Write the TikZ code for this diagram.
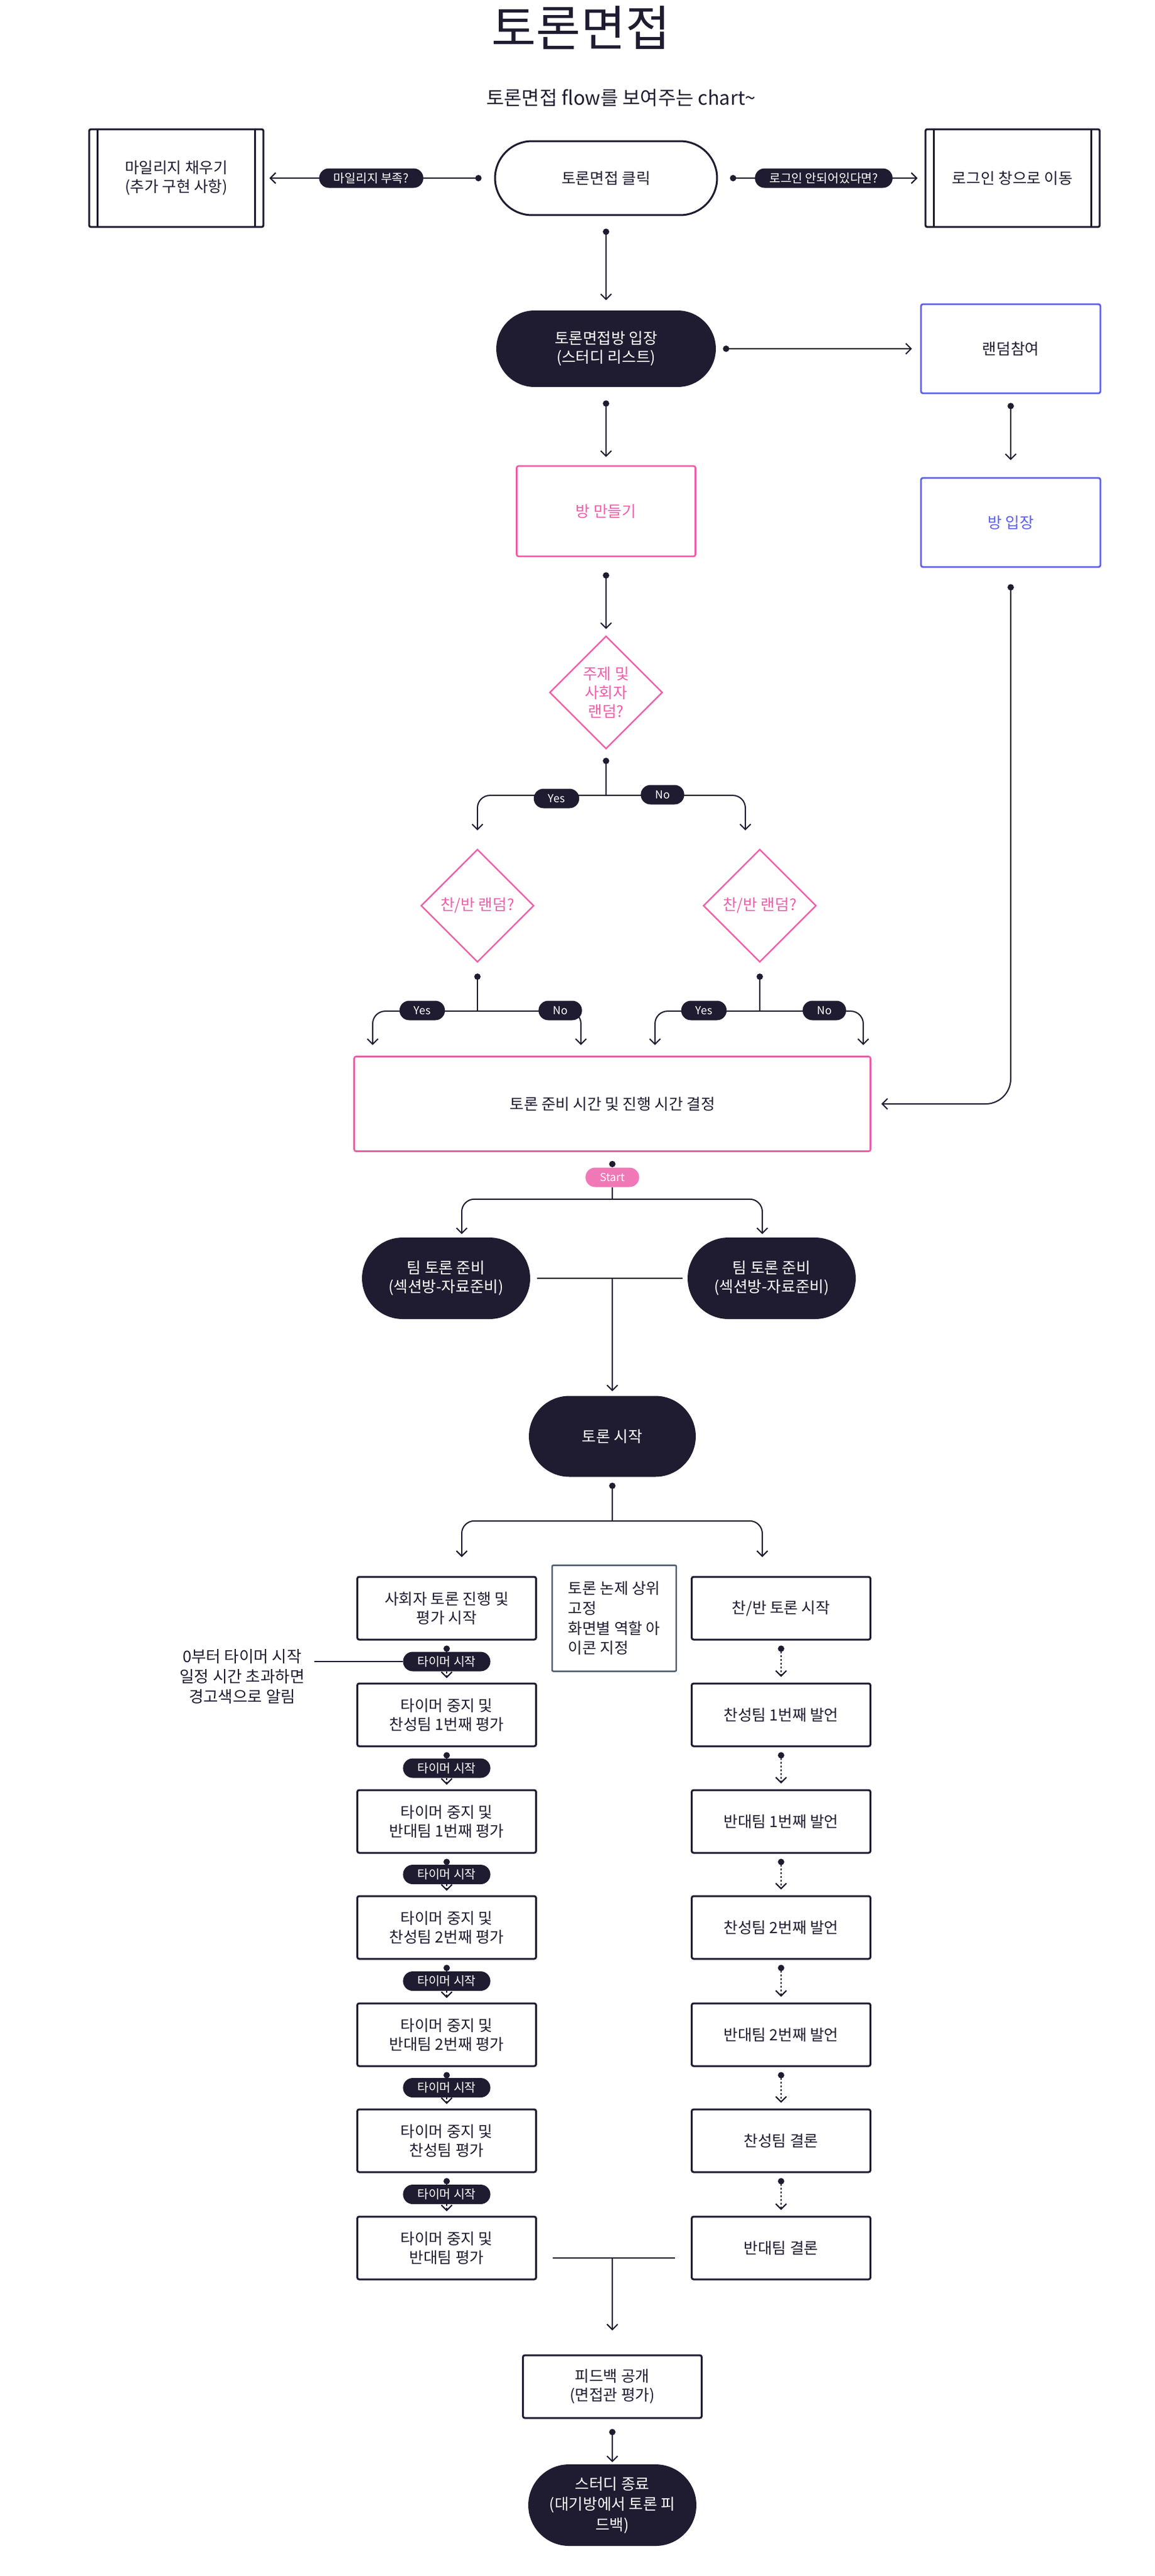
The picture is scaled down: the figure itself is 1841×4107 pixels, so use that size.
\documentclass[tikz,border=0pt]{standalone}
\usepackage{fontspec}
\setmainfont{Noto Sans CJK KR}
\usepackage{xcolor}
\usepackage{tikz}
\usetikzlibrary{arrows.meta,shapes.geometric}

\definecolor{ink}{HTML}{1F1B30}
\definecolor{rose}{HTML}{EF5DA8}
\definecolor{roselite}{HTML}{F178B6}
\definecolor{iris}{HTML}{5D5FEF}
\definecolor{slate}{HTML}{52606D}

\newcommand{\bodyfont}{\fontsize{14pt}{17pt}\selectfont}
\newcommand{\tagfont}{\fontsize{11pt}{13pt}\selectfont}

\begin{document}
\begin{tikzpicture}[x=0.02cm,y=-0.02cm,
  every node/.style={font=\bodyfont,text=ink,align=center,inner sep=0pt},
  box/.style={draw=ink,line width=0.06cm,rounded corners=0.06cm,minimum width=5.7cm,minimum height=2cm},
  procbox/.style={box,minimum width=5.56cm,minimum height=3.12cm},
  bluebox/.style={box,draw=iris,line width=0.055cm,minimum width=5.72cm,minimum height=2.84cm},
  pinkbox/.style={box,draw=rose,line width=0.055cm,minimum width=5.7cm,minimum height=2.88cm,text=rose},
  startbox/.style={draw=ink,fill=white,line width=0.06cm,rounded corners=1.18cm,minimum width=7.08cm,minimum height=2.36cm},
  term/.style={fill=ink,text=white,rounded corners=1.3cm,minimum width=5.36cm,minimum height=2.6cm},
  decide/.style={diamond,aspect=1,draw=rose,line width=0.045cm,text=rose,minimum width=3.6cm,minimum height=3.6cm},
  tag/.style={fill=ink,text=white,font=\tagfont,rounded corners=0.31cm,minimum height=0.62cm,inner xsep=0.46cm},
  answer/.style={tag,font=\fontsize{10pt}{12pt}\selectfont},
  conn/.style={draw=ink,line width=0.04cm},
  flow/.style={conn,{Circle[length=0.2cm]}-{Straight Barb[length=0.17cm,width=0.34cm]}},
  link/.style={conn,-{Straight Barb[length=0.17cm,width=0.34cm]}},
  stem/.style={conn,{Circle[length=0.2cm]}-},
  split/.style={conn,rounded corners=0.4cm,{Straight Barb[length=0.17cm,width=0.34cm]}-{Straight Barb[length=0.17cm,width=0.34cm]}},
  dotflow/.style={flow,dash pattern=on 0.06cm off 0.06cm},
  dotlink/.style={link,dash pattern=on 0.06cm off 0.06cm}
]

\useasboundingbox (0,0) rectangle (1841,4107);

\pgfmathsetmacro{\MX}{966}   % upper column
\pgfmathsetmacro{\LX}{976}   % lower column
\pgfmathsetmacro{\LC}{712}   % left lane
\pgfmathsetmacro{\RC}{1245}  % right lane

% title
\node[font=\fontsize{44pt}{48pt}\selectfont] (title) at (926,44) {토론면접};
\node[font=\fontsize{17.5pt}{20pt}\selectfont] (subtitle) at (990,156) {토론면접 flow를 보여주는 chart\textasciitilde};

% top row
\node[startbox] (click) at (\MX,284) {토론면접 클릭};
\node[procbox] (mile) at (281,284) {마일리지 채우기\\(추가 구현 사항)};
\node[procbox] (login) at (1614,284) {로그인 창으로 이동};
\foreach \b in {mile,login}{
  \draw[draw=ink,line width=0.05cm] ([xshift=0.3cm]\b.north west) -- ([xshift=0.3cm]\b.south west);
  \draw[draw=ink,line width=0.05cm] ([xshift=-0.3cm]\b.north east) -- ([xshift=-0.3cm]\b.south east);
}
\draw[flow] ([xshift=-0.4cm]click.west) -- node[tag,pos=0.52] (askmile) {마일리지 부족?} ([xshift=0.16cm]mile.east);
\draw[flow] ([xshift=0.38cm]click.east) -- node[tag] (asklogin) {로그인 안되어있다면?} ([xshift=-0.22cm]login.west);

% room list
\node[term,minimum width=7cm,minimum height=2.44cm,rounded corners=1.22cm] (enter) at (\MX,556) {토론면접방 입장\\(스터디 리스트)};
\node[bluebox] (random) at (1611,556) {랜덤참여};
\node[bluebox,text=iris] (roomin) at (1611,833) {방 입장};
\node[pinkbox] (make) at (\MX,815) {방 만들기};

\draw[flow] ([yshift=-0.4cm]click.south) -- ([yshift=0.32cm]enter.north);
\draw[flow] ([xshift=0.22cm]enter.east) -- ([xshift=-0.26cm]random.west);
\draw[flow] ([yshift=-0.28cm]random.south) -- ([yshift=0.54cm]roomin.north);
\draw[flow] ([yshift=-0.42cm]enter.south) -- ([yshift=0.26cm]make.north);

% random choices
\node[decide] (topic) at (\MX,1104) {주제 및\\사회자\\랜덤?};
\node[decide] (sideL) at (761,1444) {찬/반 랜덤?};
\node[decide] (sideR) at (1211,1444) {찬/반 랜덤?};
\node[box,draw=rose,line width=0.055cm,minimum width=16.46cm,minimum height=3.02cm] (prep) at (\LX,1760) {토론 준비 시간 및 진행 시간 결정};

\draw[flow] ([yshift=-0.48cm]make.south) -- ([yshift=0.2cm]topic.north);
\draw[stem] ([yshift=-0.26cm]topic.south) -- ++(0,60) coordinate (topicfork);
\draw[split] ([yshift=0.58cm]sideL.north) |- (topicfork) -| ([xshift=-0.46cm,yshift=0.58cm]sideR.north);
\node[answer] (yes0) at (887,1273) {Yes};
\node[answer] (no0) at (1056,1267) {No};

\foreach \s in {sideL,sideR}{
  \draw[stem] ([yshift=-0.34cm]\s.south) -- ++(0,60) coordinate (\s fork);
  \draw[split] ([xshift=-3.34cm,yshift=0.34cm]\s.south |- prep.north) |- (\s fork) -| ([xshift=3.3cm,yshift=0.34cm]\s.south |- prep.north);
}
\node[answer] (yes1) at (673,1611) {Yes};
\node[answer] (no1) at (893,1611) {No};
\node[answer] (yes2) at (1122,1611) {Yes};
\node[answer] (no2) at (1314,1611) {No};

\draw[flow,rounded corners=0.8cm] ([yshift=-0.52cm]roomin.south) |- ([xshift=0.32cm]prep.east);

% team preparation
\node[answer,fill=roselite] (go) at (\LX,1877) {Start};
\node[term] (teamL) at (711,2038) {팀 토론 준비\\(섹션방-자료준비)};
\node[term] (teamR) at (1230,2038) {팀 토론 준비\\(섹션방-자료준비)};
\node[term,minimum width=5.32cm,minimum height=2.58cm,rounded corners=1.29cm] (debate) at (\LX,2290) {토론 시작};

\draw[stem] ([yshift=-0.28cm]prep.south) -- (go.north);
\draw[conn] (go.south) -- ++(0,19) coordinate (gofork);
\draw[split] ([xshift=0.5cm,yshift=0.1cm]teamL.north) |- (gofork) -| ([xshift=-0.3cm,yshift=0.1cm]teamR.north);
\draw[conn] ([xshift=0.22cm]teamL.east) -- ([xshift=-0.16cm]teamR.west);
\draw[link] (debate.north |- teamL.east) -- ([yshift=0.14cm]debate.north);

% debate lanes
\foreach \i/\y/\t in {1/2564/{사회자 토론 진행 및\\평가 시작},2/2734/{타이머 중지 및\\찬성팀 1번째 평가},3/2904/{타이머 중지 및\\반대팀 1번째 평가},4/3073/{타이머 중지 및\\찬성팀 2번째 평가},5/3244/{타이머 중지 및\\반대팀 2번째 평가},6/3413/{타이머 중지 및\\찬성팀 평가},7/3584/{타이머 중지 및\\반대팀 평가}}
  \node[box] (ev\i) at (\LC,\y) {\t};
\foreach \i/\y/\t in {1/2564/{찬/반 토론 시작},2/2734/{찬성팀 1번째 발언},3/2904/{반대팀 1번째 발언},4/3073/{찬성팀 2번째 발언},5/3244/{반대팀 2번째 발언},6/3413/{찬성팀 결론},7/3584/{반대팀 결론}}
  \node[box] (sp\i) at (\RC,\y) {\t};

\draw[stem] ([yshift=-0.18cm]debate.south) -- ++(0,61) coordinate (debfork);
\draw[split] ([xshift=0.48cm,yshift=0.6cm]ev1.north) |- (debfork) -| ([xshift=-0.6cm,yshift=0.6cm]sp1.north);

\foreach \i/\j in {1/2,2/3,3/4,4/5,5/6,6/7}{
  \path (ev\i.south) -- node[tag] (tm\i) {타이머 시작} (ev\j.north);
  \draw[stem] ([yshift=-0.16cm]ev\i.south) -- (tm\i.north);
  \draw[dotlink] (tm\i.south) -- ([yshift=0.14cm]ev\j.north);
  \draw[dotflow] ([yshift=-0.16cm]sp\i.south) -- ([yshift=0.18cm]sp\j.north);
}

% notes
\node[box,draw=slate,line width=0.05cm,rounded corners=0.04cm,minimum width=3.96cm,minimum height=3.38cm,align=left,font=\fontsize{14pt}{18pt}\selectfont] (memo) at (979,2580) {토론 논제 상위\\고정\\화면별 역할 아\\이콘 지정};
\node[font=\fontsize{14.5pt}{18pt}\selectfont] (timerhint) at (386,2673) {0부터 타이머 시작\\일정 시간 초과하면\\경고색으로 알림};
\draw[conn] ([xshift=0.3cm]timerhint.east |- tm1.west) -- (tm1.west);

% wrap up
\node[box,minimum width=5.7cm,minimum height=2cm] (feed) at (\LX,3805) {피드백 공개\\(면접관 평가)};
\node[term,font=\fontsize{14pt}{18.5pt}\selectfont] (finish) at (\LX,3994) {스터디 종료\\(대기방에서 토론 피\\드백)};

\draw[conn] ([xshift=0.5cm,yshift=-0.32cm]ev7.east) -- ([xshift=-0.5cm,yshift=-0.32cm]sp7.west);
\draw[link] ([yshift=-0.32cm]feed.north |- ev7.east) -- ([yshift=0.76cm]feed.north);
\draw[flow] ([yshift=-0.32cm]feed.south) -- ([yshift=0.06cm]finish.north);

\end{tikzpicture}
\end{document}
